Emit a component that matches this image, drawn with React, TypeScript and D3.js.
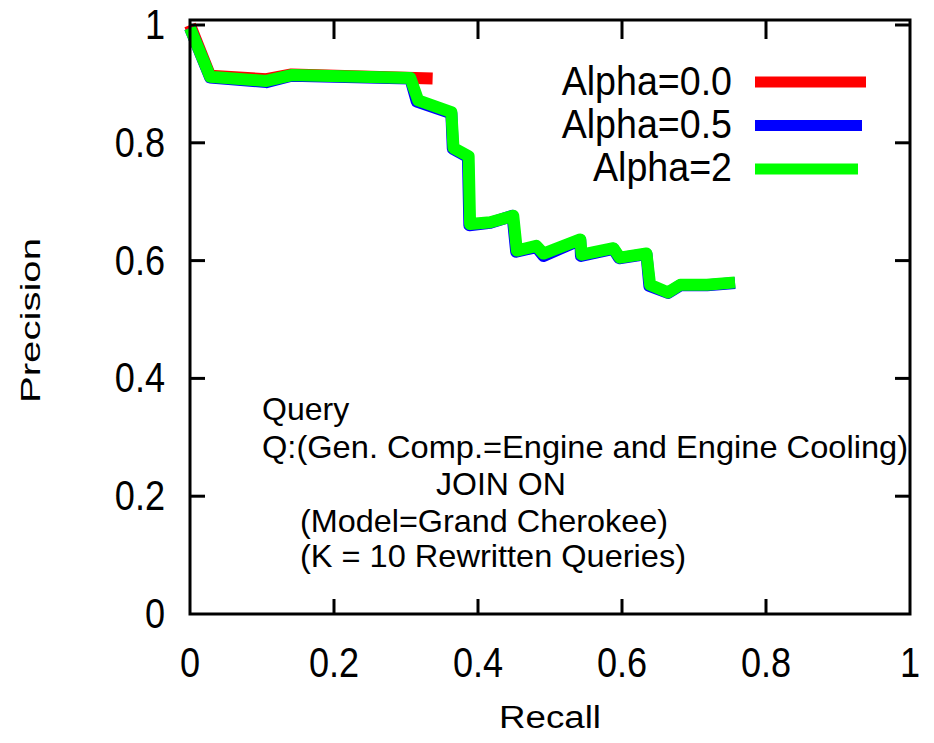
import * as d3 from 'd3';

// recall / precision pairs
const recallA0 = [0, 0.028, 0.106, 0.141, 0.337];
const precisionA0 = [1.0, 0.914, 0.908, 0.916, 0.909];

const recallA05 = [0, 0.028, 0.106, 0.141, 0.306, 0.315, 0.363, 0.365, 0.386, 0.388, 0.417, 0.448, 0.453, 0.481, 0.491, 0.542, 0.543, 0.588, 0.596, 0.634, 0.638, 0.664, 0.681, 0.718, 0.757];
const precisionA05 = [0.995, 0.911, 0.903, 0.914, 0.909, 0.87, 0.85, 0.79, 0.776, 0.66, 0.664, 0.676, 0.615, 0.623, 0.608, 0.635, 0.608, 0.62, 0.604, 0.611, 0.557, 0.545, 0.558, 0.558, 0.562];

const recallA2 = [0, 0.028, 0.106, 0.141, 0.306, 0.317, 0.363, 0.366, 0.387, 0.389, 0.417, 0.449, 0.454, 0.481, 0.491, 0.542, 0.544, 0.588, 0.597, 0.634, 0.639, 0.664, 0.681, 0.718, 0.757];
const precisionA2 = [0.995, 0.912, 0.905, 0.915, 0.91, 0.872, 0.852, 0.791, 0.777, 0.662, 0.665, 0.676, 0.617, 0.625, 0.612, 0.636, 0.61, 0.621, 0.605, 0.612, 0.559, 0.546, 0.559, 0.559, 0.563];

const seriesNames = ['Alpha=0.0', 'Alpha=0.5', 'Alpha=2'];
const seriesColors = ['#ff0000', '#0000ff', '#00ff00'];

const xTicks = [0, 0.2, 0.4, 0.6, 0.8, 1];
const yTicks = [0, 0.2, 0.4, 0.6, 0.8, 1];

const noteLines = [
  'Query',
  'Q:(Gen. Comp.=Engine and Engine Cooling)',
  'JOIN ON',
  '(Model=Grand Cherokee)',
  '(K = 10 Rewritten Queries)',
];

const W = 934;
const H = 743;
const FONT = '"Liberation Sans", Arial, sans-serif';

const App = () => {
  const x = d3.scaleLinear().domain([0, 1]).range([190, 910]);
  const y = d3.scaleLinear().domain([0, 1]).range([614, 25]);

  const series = [
    { xs: recallA0, ys: precisionA0 },
    { xs: recallA05, ys: precisionA05 },
    { xs: recallA2, ys: precisionA2 },
  ];

  const line = d3
    .line<[number, number]>()
    .x((d) => x(d[0]))
    .y((d) => y(d[1]));

  const left = x(0);
  const right = x(1);
  const bottom = y(0);
  const top = y(1) - 5;
  const tick = 15;

  // note block: x, baseline, forced width
  const notePos = [
    { x: 262, y: 420, w: 0 },
    { x: 262, y: 458, w: 646 },
    { x: 436, y: 495, w: 0 },
    { x: 300, y: 532, w: 368 },
    { x: 300, y: 567, w: 386 },
  ];

  return (
    <svg
      width={W}
      height={H}
      style={{ position: 'absolute', left: 0, top: 0, background: 'white' }}
      fontFamily={FONT}
    >
      <rect x={0} y={0} width={W} height={H} fill="white" />

      {/* curves */}
      {series.map((s, i) => (
        <path
          key={i}
          d={line(s.xs.map((v, j) => [v, s.ys[j]] as [number, number])) || ''}
          fill="none"
          stroke={seriesColors[i]}
          strokeWidth={12}
          strokeLinejoin="round"
          strokeLinecap="butt"
        />
      ))}

      {/* frame */}
      <rect
        x={left}
        y={top}
        width={right - left}
        height={bottom - top}
        fill="none"
        stroke="black"
        strokeWidth={3}
      />

      {/* ticks, mirrored */}
      {xTicks.slice(1, -1).map((t) => (
        <g key={'xt' + t} stroke="black" strokeWidth={3}>
          <line x1={x(t)} x2={x(t)} y1={bottom} y2={bottom - tick} />
          <line x1={x(t)} x2={x(t)} y1={top} y2={top + tick + 4} />
        </g>
      ))}
      {yTicks.slice(1).map((t) => (
        <g key={'yt' + t} stroke="black" strokeWidth={3}>
          <line x1={left} x2={left + tick} y1={y(t)} y2={y(t)} />
          <line x1={right} x2={right - tick} y1={y(t)} y2={y(t)} />
        </g>
      ))}

      {/* tick labels */}
      {xTicks.map((t) => (
        <text
          key={'xl' + t}
          transform={`translate(${x(t)},677) scale(0.86,1)`}
          textAnchor="middle"
          fontSize={42}
        >
          {String(t)}
        </text>
      ))}
      {yTicks.map((t) => (
        <text
          key={'yl' + t}
          transform={`translate(165,${y(t) + 14}) scale(0.86,1)`}
          textAnchor="end"
          fontSize={42}
        >
          {String(t)}
        </text>
      ))}

      {/* axis titles */}
      <text x={x(0.5)} y={728} textAnchor="middle" fontSize={31} textLength={102} lengthAdjust="spacingAndGlyphs">
        Recall
      </text>
      <text
        transform={`translate(40,${(y(0) + y(1)) / 2 + 1}) rotate(-90)`}
        textAnchor="middle"
        fontSize={28}
        textLength={165}
        lengthAdjust="spacingAndGlyphs"
      >
        Precision
      </text>

      {/* legend */}
      {seriesNames.map((name, i) => (
        <g key={name}>
          <text
            transform={`translate(732,${95 + i * 43}) scale(0.94,1)`}
            textAnchor="end"
            fontSize={40}
          >
            {name}
          </text>
          <line
            x1={755}
            x2={866 - i * 4}
            y1={82 + i * 43.5}
            y2={82 + i * 43.5}
            stroke={seriesColors[i]}
            strokeWidth={11}
          />
        </g>
      ))}

      {/* note */}
      {noteLines.map((txt, i) => (
        <text
          key={txt}
          x={notePos[i].x}
          y={notePos[i].y}
          fontSize={32}
          {...(notePos[i].w ? { textLength: notePos[i].w, lengthAdjust: 'spacingAndGlyphs' } : {})}
        >
          {txt}
        </text>
      ))}
    </svg>
  );
};

export default App;
